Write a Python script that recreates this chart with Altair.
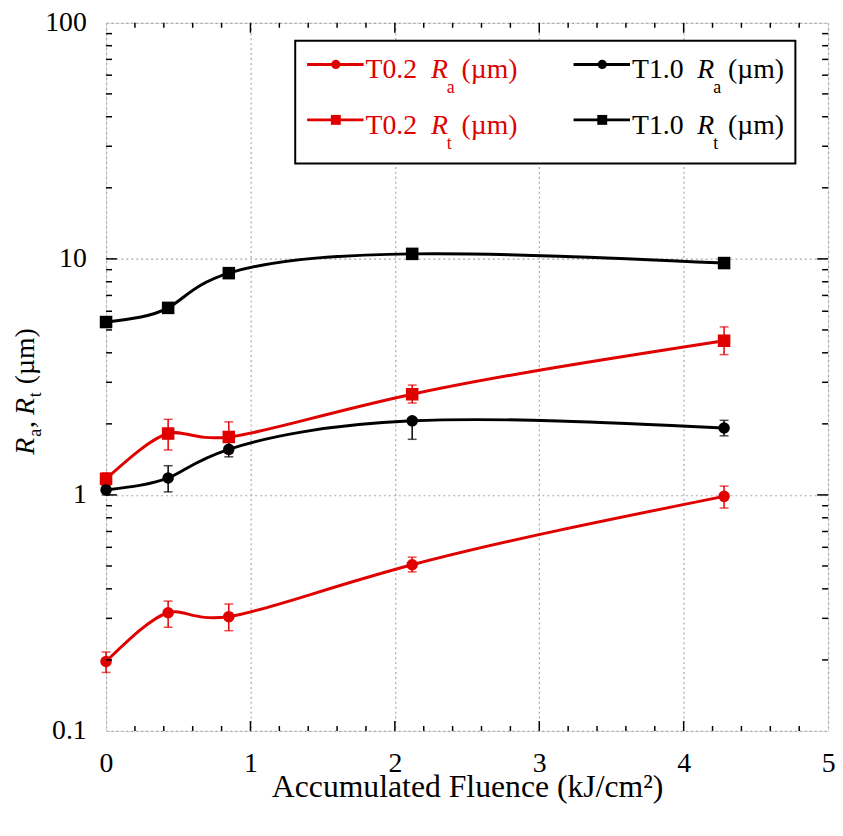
import altair as alt
import pandas as pd

FONT = "Liberation Serif, Times New Roman, serif"
RED = "#E00000"

# ---- data ----
fluence = [0.0, 0.43, 0.85, 2.12, 4.28]

t02_ra = [0.197, 0.317, 0.305, 0.506, 0.986]
t02_ra_lo = [0.177, 0.275, 0.266, 0.472, 0.88]
t02_ra_hi = [0.216, 0.355, 0.345, 0.545, 1.09]

t02_rt = [1.17, 1.82, 1.76, 2.67, 4.5]
t02_rt_lo = [1.10, 1.55, 1.50, 2.45, 3.93]
t02_rt_hi = [1.24, 2.09, 2.04, 2.92, 5.15]

t10_ra = [1.05, 1.18, 1.56, 2.06, 1.92]
t10_ra_lo = [1.00, 1.03, 1.45, 1.72, 1.78]
t10_ra_hi = [1.10, 1.33, 1.68, 2.12, 2.07]

t10_rt = [5.4, 6.2, 8.7, 10.5, 9.6]
t10_rt_lo = [5.3, 6.05, 8.5, 10.3, 9.4]
t10_rt_hi = [5.5, 6.35, 8.9, 10.7, 9.8]

series_names = ["T0.2 Ra", "T0.2 Rt", "T1.0 Ra", "T1.0 Rt"]
series_colors = [RED, RED, "black", "black"]

x_ticks = [0, 1, 2, 3, 4, 5]
y_ticks = [0.1, 1, 10, 100]
x_major = [1, 2, 3, 4]
x_minor = [0.2, 0.4, 0.6, 0.8, 1.2, 1.4, 1.6, 1.8, 2.2, 2.4, 2.6, 2.8,
           3.2, 3.4, 3.6, 3.8, 4.2, 4.4, 4.6, 4.8]
y_major = [1, 10]
y_minor = [0.2, 0.3, 0.4, 0.5, 0.6, 0.7, 0.8, 0.9,
           2, 3, 4, 5, 6, 7, 8, 9,
           20, 30, 40, 50, 60, 70, 80, 90]

rows = []
for name, ys, lo, hi, shp in [
    ("T0.2 Ra", t02_ra, t02_ra_lo, t02_ra_hi, "circle"),
    ("T0.2 Rt", t02_rt, t02_rt_lo, t02_rt_hi, "square"),
    ("T1.0 Ra", t10_ra, t10_ra_lo, t10_ra_hi, "circle"),
    ("T1.0 Rt", t10_rt, t10_rt_lo, t10_rt_hi, "square"),
]:
    for xv, yv, l, h in zip(fluence, ys, lo, hi):
        rows.append({"series": name, "x": xv, "y": yv, "lo": l, "hi": h, "marker": shp})
df = pd.DataFrame(rows)

W, H = 729, 715

xs = alt.Scale(domain=[0, 5], nice=False, zero=False)
ys_ = alt.Scale(type="log", domain=[0.1, 100], nice=False)
color = alt.Color("series:N", scale=alt.Scale(domain=series_names, range=series_colors), legend=None)

grid_style = dict(grid=True, gridColor="#a8a8a8", gridDash=[2, 3], gridWidth=1.2)

x_axis = alt.Axis(values=x_ticks, ticks=False, domain=False, labelFlush=False,
                  format="d", **grid_style,
                  labelFont=FONT, labelFontSize=28, labelPadding=19, labelColor="black",
                  title="Accumulated Fluence (kJ/cm²)", titleFont=FONT, titleFontSize=32,
                  titleFontWeight="normal", titleColor="black", titleBaseline="alphabetic",
                  titleY=66)
y_axis = alt.Axis(values=y_ticks, ticks=False, domain=False, format="~g", **grid_style,
                  labelFont=FONT, labelFontSize=28, labelPadding=20, labelColor="black",
                  labelOverlap=False, labelFlush=False, title=None)

base = alt.Chart(df)

lines = base.mark_line(interpolate="natural", strokeWidth=3).encode(
    x=alt.X("x:Q", scale=xs, axis=x_axis),
    y=alt.Y("y:Q", scale=ys_, axis=y_axis),
    color=color, detail="series:N")

err = base.mark_rule(strokeWidth=1.5).encode(
    x=alt.X("x:Q", scale=xs), y=alt.Y("lo:Q", scale=ys_), y2="hi:Q", color=color)
cap_lo = base.mark_tick(orient="horizontal", size=9, thickness=1.5).encode(
    x=alt.X("x:Q", scale=xs), y=alt.Y("lo:Q", scale=ys_), color=color)
cap_hi = base.mark_tick(orient="horizontal", size=9, thickness=1.5).encode(
    x=alt.X("x:Q", scale=xs), y=alt.Y("hi:Q", scale=ys_), color=color)

points = base.mark_point(filled=True, opacity=1).encode(
    x=alt.X("x:Q", scale=xs), y=alt.Y("y:Q", scale=ys_), color=color,
    shape=alt.Shape("marker:N", scale=alt.Scale(domain=["circle", "square"], range=["circle", "square"]), legend=None),
    size=alt.Size("marker:N", scale=alt.Scale(domain=["circle", "square"], range=[135, 160]), legend=None))

# inward ticks on all four sides
def xtick_layer(vals, length):
    d = alt.Chart(pd.DataFrame({"t": vals}))
    bottom = d.mark_rule(color="black", strokeWidth=1.5).encode(
        x=alt.X("t:Q", scale=xs), y=alt.value(H), y2=alt.value(H - length))
    top = d.mark_rule(color="black", strokeWidth=1.5).encode(
        x=alt.X("t:Q", scale=xs), y=alt.value(0), y2=alt.value(length))
    return [bottom, top]

def ytick_layer(vals, length):
    d = alt.Chart(pd.DataFrame({"t": vals}))
    left = d.mark_rule(color="black", strokeWidth=1.5).encode(
        y=alt.Y("t:Q", scale=ys_), x=alt.value(0), x2=alt.value(length))
    right = d.mark_rule(color="black", strokeWidth=1.5).encode(
        y=alt.Y("t:Q", scale=ys_), x=alt.value(W), x2=alt.value(W - length))
    return [left, right]

tick_layers = (xtick_layer(x_major, 10) + xtick_layer(x_minor, 5)
               + ytick_layer(y_major, 11) + ytick_layer(y_minor, 6))

one = alt.Data(values=[{}])

def txt(s, x, y, size=28, col="black", italic=False, angle=0):
    return alt.Chart(one).mark_text(
        text=s, font=FONT, fontSize=size, fontStyle="italic" if italic else "normal",
        color=col, angle=angle, align="left", baseline="alphabetic").encode(
        x=alt.value(x), y=alt.value(y))

# y-axis title: R_a, R_t (µm), rotated
ytitle = [
    txt("R", -73, 436, italic=True, angle=270),
    txt("a", -66, 418, size=18, angle=270),
    txt(",", -73, 409, angle=270),
    txt("R", -73, 396, italic=True, angle=270),
    txt("t", -66, 378, size=18, angle=270),
    txt("(µm)", -73, 365, angle=270),
]

# legend box
legend_box = alt.Chart(one).mark_rect(fill="white", stroke="black", strokeWidth=2).encode(
    x=alt.value(191), x2=alt.value(696), y=alt.value(18), y2=alt.value(142))

def legend_entry(x0, yline, label, sub, col, shape):
    parts = []
    parts.append(alt.Chart(one).mark_rule(color=col, strokeWidth=3).encode(
        x=alt.value(x0), x2=alt.value(x0 + 57), y=alt.value(yline)))
    parts.append(alt.Chart(one).mark_point(filled=True, opacity=1, shape=shape, color=col,
                                           size=85 if shape == "circle" else 100).encode(
        x=alt.value(x0 + 29), y=alt.value(yline)))
    base_y = yline + 14
    parts.append(txt(label, x0 + 59, base_y, col=col))
    parts.append(txt("R", x0 + 125, base_y, col=col, italic=True))
    parts.append(txt(sub, x0 + 141, base_y + 15, size=18, col=col))
    parts.append(txt("(µm)", x0 + 156, base_y, col=col))
    return parts

legend_layers = [legend_box]
legend_layers += legend_entry(203, 42, "T0.2", "a", RED, "circle")
legend_layers += legend_entry(203, 98, "T0.2", "t", RED, "square")
legend_layers += legend_entry(472, 42, "T1.0", "a", "black", "circle")
legend_layers += legend_entry(472, 98, "T1.0", "t", "black", "square")

chart = alt.layer(lines, err, cap_lo, cap_hi, points, *tick_layers, *ytitle, *legend_layers).properties(
    width=W, height=H,
    autosize=alt.AutoSizeParams(type="none"),
    padding={"left": 99, "top": 11, "right": 7, "bottom": 94},
).configure_view(stroke="black", strokeWidth=2).configure(background="white")

chart.save("out.html", embed_options={"renderer": "svg", "actions": False})
